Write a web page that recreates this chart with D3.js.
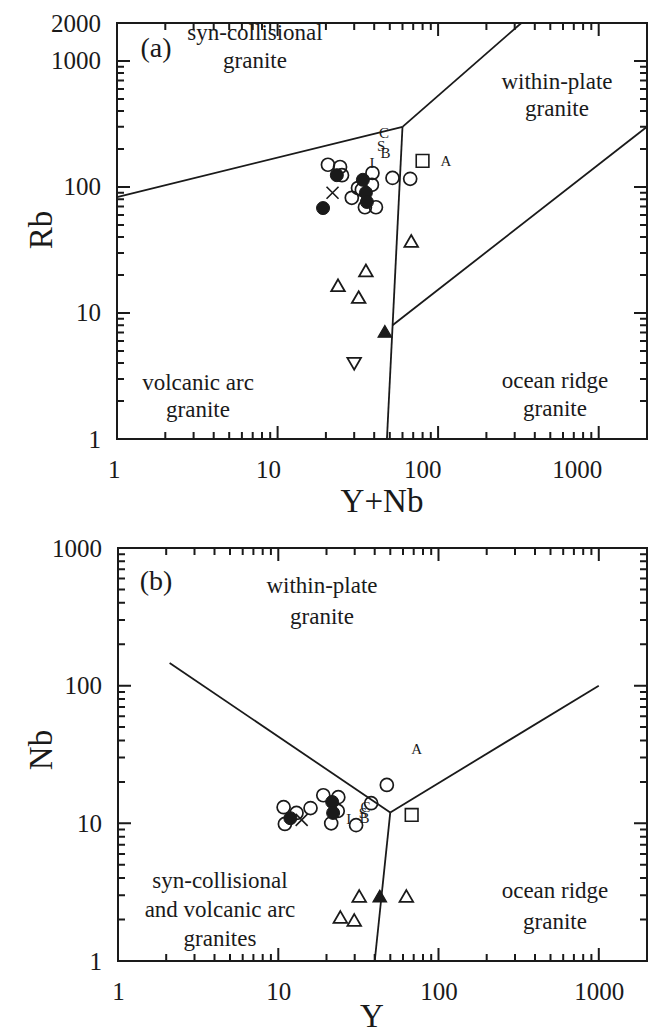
<!DOCTYPE html>
<html>
<head>
<meta charset="utf-8">
<script src="https://cdn.jsdelivr.net/npm/d3@7"></script>
<style>
body{margin:0;background:#fff;}
text{font-family:"Liberation Serif","DejaVu Serif",serif;fill:#1a1a1a;}
</style>
</head>
<body>
<div id="chart"></div>
<script>
// ---------- panel (a): Rb vs Y+Nb ----------
const aOpenCircle = [[20.6,150],[24.5,144],[25.2,124],[39,129],[31.7,98],[38.7,104],[29,82],[35,69],[41,69],[52,118],[67,116],[33.5,95]];
const aFilledCircle = [[23.4,124],[34,114],[35.5,90],[36,76],[19.2,68]];
const aCross = [[22,90]];
const aSquare = [[80,161]];
const aTriangle = [[68,36],[35.5,21],[23.8,16],[32,12.9]];
const aFilledTriangle = [[46.6,6.9]];
const aDownTriangle = [[30,4.1]];
const aLetters = [["A",112,161],["C",46,268],["S",44.2,214],["B",47,186],["I",38.7,155]];
const aBoundaries = [
  [[1,83],[60,300]],
  [[60,300],[330,2000]],
  [[60,300],[48,1]],
  [[52,8],[2000,300]]
];
const aXLabels = [1,10,100,1000];
const aYLabels = [1,10,100,1000,2000];

// ---------- panel (b): Nb vs Y ----------
const bOpenCircle = [[10.8,13.1],[11,9.9],[13,11.9],[15.9,12.9],[19.1,16],[23.7,15.5],[23.5,12.3],[21.4,10],[30.6,9.7],[38,14],[47.6,19]];
const bFilledCircle = [[11.9,10.9],[21.7,14.3],[22,11.9]];
const bCross = [[14,10.6]];
const bSquare = [[68,11.5]];
const bTriangle = [[32,2.87],[63,2.87],[24.4,2.02],[29.8,1.92]];
const bFilledTriangle = [[43,2.87]];
const bDownTriangle = [];
const bLetters = [["A",73,35],["I",27.5,10.8],["B",34.5,11],["S",33.8,12],["C",35,13.2]];
const bBoundaries = [
  [[2.1,146],[50,12]],
  [[50,12],[1000,100]],
  [[50,12],[40,1]]
];
const bXLabels = [1,10,100,1000];
const bYLabels = [1,10,100,1000];

const W = 652, H = 1032;
const svg = d3.select('#chart').append('svg')
  .attr('width', W)
  .attr('height', H);

const INK = '#1a1a1a';

function drawPanel(cfg){
  const x = d3.scaleLog().domain(cfg.xDomain).range([cfg.left, cfg.right]);
  const y = d3.scaleLog().domain(cfg.yDomain).range([cfg.bottom, cfg.top]);
  const g = svg.append('g').attr('class','panel');

  // frame
  g.append('rect')
    .attr('x', cfg.left).attr('y', cfg.top)
    .attr('width', cfg.right - cfg.left).attr('height', cfg.bottom - cfg.top)
    .attr('fill', 'none').attr('stroke', INK).attr('stroke-width', 2);

  // inward log ticks on all four sides, one path
  const isMajor = v => Math.abs(Math.log10(v) - Math.round(Math.log10(v))) < 1e-9;
  const tlen = v => isMajor(v) ? 13 : 7;
  const xt = x.ticks(), yt = y.ticks();
  let tp = '';
  xt.forEach(d => {
    const px = x(d).toFixed(1);
    tp += `M${px},${cfg.bottom}V${cfg.bottom - tlen(d)}`;
    tp += `M${px},${cfg.top}V${cfg.top + tlen(d)}`;
  });
  yt.forEach(d => {
    const py = y(d).toFixed(1);
    tp += `M${cfg.left},${py}H${cfg.left + tlen(d)}`;
    tp += `M${cfg.right},${py}H${cfg.right - tlen(d)}`;
  });
  g.append('path').attr('class','ticks')
    .attr('d', tp).attr('fill','none')
    .attr('stroke', INK).attr('stroke-width', 2);

  // tick labels
  const xl = g.append('g').attr('transform', `translate(0,${cfg.bottom})`)
    .call(d3.axisBottom(x).tickValues(cfg.xLabels).tickSize(0).tickPadding(21).tickFormat(d3.format('d')));
  xl.select('.domain').remove();
  xl.selectAll('text').attr('font-size', 25).attr('fill', INK)
    .attr('font-family', '"Liberation Serif",serif')
    .attr('text-anchor', cfg.xAnchor).attr('dx', cfg.xAnchor === 'end' ? 3 : 0);

  const yl = g.append('g').attr('transform', `translate(${cfg.left},0)`)
    .call(d3.axisLeft(y).tickValues(cfg.yLabels).tickSize(0).tickPadding(16).tickFormat(d3.format('d')));
  yl.select('.domain').remove();
  yl.selectAll('text').attr('font-size', 25).attr('fill', INK)
    .attr('font-family', '"Liberation Serif",serif');

  // discrimination boundaries
  const line = d3.line().x(d => x(d[0])).y(d => y(d[1]));
  g.selectAll('path.boundary').data(cfg.boundaries).join('path')
    .attr('class','boundary')
    .attr('d', line)
    .attr('fill','none').attr('stroke', INK).attr('stroke-width', 1.8);

  // samples
  const marks = g.append('g').attr('class','marks');
  const tri = d3.symbol(d3.symbolTriangle, 80);
  const sq = d3.symbol(d3.symbolSquare, 160);

  marks.selectAll('circle.open').data(cfg.openCircle).join('circle')
    .attr('class','open').attr('cx', d => x(d[0])).attr('cy', d => y(d[1])).attr('r', 6.5)
    .attr('fill','none').attr('stroke', INK).attr('stroke-width', 1.7);
  marks.selectAll('circle.filled').data(cfg.filledCircle).join('circle')
    .attr('class','filled').attr('cx', d => x(d[0])).attr('cy', d => y(d[1])).attr('r', 6.5)
    .attr('fill', INK).attr('stroke', INK).attr('stroke-width', 1);
  marks.selectAll('path.sq').data(cfg.square).join('path')
    .attr('class','sq').attr('d', sq)
    .attr('transform', d => `translate(${x(d[0])},${y(d[1])})`)
    .attr('fill','none').attr('stroke', INK).attr('stroke-width', 1.6);
  marks.selectAll('path.tri').data(cfg.triangle).join('path')
    .attr('class','tri').attr('d', tri)
    .attr('transform', d => `translate(${x(d[0])},${y(d[1])})`)
    .attr('fill','none').attr('stroke', INK).attr('stroke-width', 1.8);
  marks.selectAll('path.ftri').data(cfg.filledTriangle).join('path')
    .attr('class','ftri').attr('d', tri)
    .attr('transform', d => `translate(${x(d[0])},${y(d[1])})`)
    .attr('fill', INK).attr('stroke', INK).attr('stroke-width', 1.2);
  marks.selectAll('path.dtri').data(cfg.downTriangle).join('path')
    .attr('class','dtri').attr('d', tri)
    .attr('transform', d => `translate(${x(d[0])},${y(d[1])}) rotate(180)`)
    .attr('fill','none').attr('stroke', INK).attr('stroke-width', 1.8);
  const cr = 6;
  cfg.cross.forEach(d => {
    const cx = x(d[0]), cy = y(d[1]);
    marks.append('path')
      .attr('d', `M${cx-cr},${cy-cr}L${cx+cr},${cy+cr}M${cx-cr},${cy+cr}L${cx+cr},${cy-cr}`)
      .attr('stroke', INK).attr('stroke-width', 1.6);
  });
  marks.selectAll('text.letter').data(cfg.letters).join('text')
    .attr('class','letter')
    .attr('x', d => x(d[1])).attr('y', d => y(d[2]))
    .attr('dy','0.35em').attr('text-anchor','middle')
    .attr('font-size', 15).text(d => d[0]);

  // region names
  cfg.regions.forEach(r => {
    const t = g.append('text').attr('text-anchor','middle').attr('font-size', 23);
    r.lines.forEach((s, i) => {
      t.append('tspan').attr('x', r.x).attr('y', r.y + i * r.lh).text(s);
    });
  });

  g.append('text').attr('x', cfg.tag[1]).attr('y', cfg.tag[2])
    .attr('text-anchor','middle').attr('font-size', 28).text(cfg.tag[0]);

  g.append('text').attr('x', cfg.xTitle[1]).attr('y', cfg.xTitle[2])
    .attr('text-anchor','middle').attr('font-size', 33).text(cfg.xTitle[0]);
  g.append('text')
    .attr('transform', `translate(${cfg.yTitle[1]},${cfg.yTitle[2]}) rotate(-90)`)
    .attr('text-anchor','middle').attr('font-size', 33).text(cfg.yTitle[0]);
}

drawPanel({
  left:117, right:647, top:23, bottom:439,
  xDomain:[1,2000], yDomain:[1,2000],
  xLabels:aXLabels, yLabels:aYLabels, xAnchor:'end',
  boundaries:aBoundaries,
  openCircle:aOpenCircle, filledCircle:aFilledCircle, cross:aCross, square:aSquare,
  triangle:aTriangle, filledTriangle:aFilledTriangle, downTriangle:aDownTriangle,
  letters:aLetters,
  regions:[
    {lines:['syn-collisional','granite'], x:255, y:40, lh:28},
    {lines:['within-plate','granite'], x:557, y:89, lh:27},
    {lines:['volcanic arc','granite'], x:198, y:390, lh:27},
    {lines:['ocean ridge','granite'], x:555, y:388, lh:28}
  ],
  tag:['(a)',156,57],
  xTitle:['Y+Nb',382,512],
  yTitle:['Rb',52,230]
});

drawPanel({
  left:118, right:647, top:548, bottom:961,
  xDomain:[1,2000], yDomain:[1,1000],
  xLabels:bXLabels, yLabels:bYLabels, xAnchor:'middle',
  boundaries:bBoundaries,
  openCircle:bOpenCircle, filledCircle:bFilledCircle, cross:bCross, square:bSquare,
  triangle:bTriangle, filledTriangle:bFilledTriangle, downTriangle:bDownTriangle,
  letters:bLetters,
  regions:[
    {lines:['within-plate','granite'], x:322, y:593, lh:31},
    {lines:['syn-collisional','and volcanic arc','granites'], x:220, y:888, lh:29},
    {lines:['ocean ridge','granite'], x:555, y:898, lh:31}
  ],
  tag:['(b)',156,590],
  xTitle:['Y',372,1027],
  yTitle:['Nb',52,750]
});
</script>
</body>
</html>
